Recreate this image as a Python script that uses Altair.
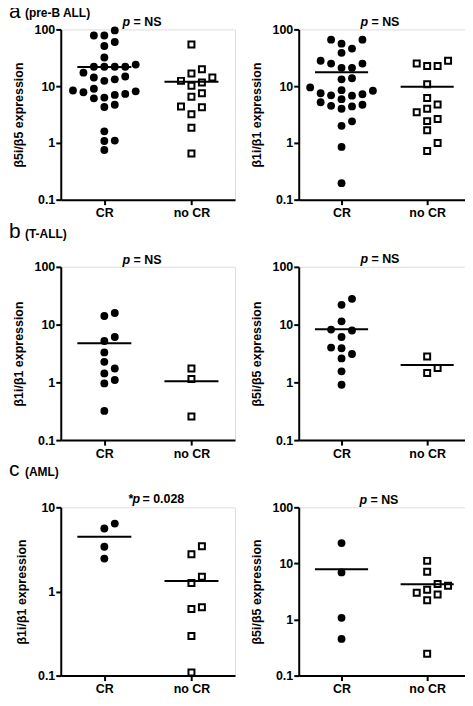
import math
import altair as alt
import pandas as pd

FONT = "Liberation Sans"

# ---------------- data ----------------
# (a) pre-B ALL, left: beta5i/beta5
a1_cr = [96, 78, 78, 60, 51, 32, 24, 22, 22, 22, 22, 17.3, 14.8, 14.2, 13.2, 12.4,
         9.0, 8.4, 8.1, 7.8, 7.3, 7.0, 6.3, 6.1, 4.7, 4.3, 1.6, 1.1, 1.08, 0.75]
a1_nocr = [54, 19.8, 16.7, 14.2, 12.4, 11.6, 10.2, 7.5, 6.5, 4.4, 4.25, 3.2, 1.85, 0.65]
# (a) pre-B ALL, right: beta1i/beta1
a2_cr = [66, 66, 56, 46, 38.7, 28, 25, 25, 21, 21, 13.8, 13.2, 9.5, 8.5, 8.3, 7.5,
         7.2, 6.9, 6.8, 5.9, 5.2, 4.7, 4.5, 4.4, 4.0, 2.4, 2.0, 0.85, 0.195]
a2_nocr = [28, 25, 22.7, 22.7, 10.8, 6.2, 4.75, 4.0, 3.47, 2.65, 2.42, 1.67, 1.0, 0.72]
# (b) T-ALL, left: beta1i/beta1
b1_cr = [15.9, 14.1, 6.1, 5.2, 3.3, 2.27, 1.74, 1.43, 1.1, 0.96, 0.32]
b1_nocr = [1.74, 1.14, 0.256]
# (b) T-ALL, right: beta5i/beta5
b2_cr = [28, 22, 11.4, 8.2, 7.9, 6.1, 4.0, 3.9, 3.1, 2.6, 1.55, 0.91]
b2_nocr = [2.8, 1.77, 1.45]
# (c) AML, left: beta1i/beta1
c1_cr = [6.4, 5.6, 3.4, 2.46]
c1_nocr = [3.45, 2.76, 1.5, 1.26, 0.65, 0.62, 0.295, 0.109]
# (c) AML, right: beta5i/beta5
c2_cr = [23, 6.9, 1.07, 0.45]
c2_nocr = [11.1, 7.1, 4.3, 4.0, 3.4, 3.0, 2.8, 2.2, 0.246]

groups = ["CR", "no CR"]
ticks3 = [0.1, 1, 10, 100]
ticks2 = [0.1, 1, 10]
title_51 = "\u03b25i/\u03b25 expression"
title_11 = "\u03b21i/\u03b21 expression"


def swarm_offsets(values, decade_px, step_px=10.5, diam_px=9.0):
    idx = sorted(range(len(values)), key=lambda i: values[i])
    seq = [0]
    for k in range(1, 8):
        seq += [k, -k]
    placed = []
    offs = [0.0] * len(values)
    for i in idx:
        y = math.log10(values[i]) * decade_px
        chosen = seq[-1] * step_px
        for k in seq:
            x = k * step_px
            if all((x - px) ** 2 + (y - py) ** 2 >= diam_px ** 2 for px, py in placed):
                chosen = x
                break
        placed.append((chosen, y))
        offs[i] = chosen
    return offs


one = pd.DataFrame({"k": [0]})


def label(text, x, y, size=12.5, weight="bold", style="normal"):
    return alt.Chart(one).mark_text(
        text=text, font=FONT, fontSize=size, fontWeight=weight, fontStyle=style,
        align="left", baseline="alphabetic", color="black"
    ).encode(x=alt.value(x), y=alt.value(y))


def panel(cr, nocr, ytitle, ydomain, yticks, width, height, texts):
    decade_px = height / (math.log10(ydomain[1]) - math.log10(ydomain[0]))
    px_per_unit = width / 2.0
    recs = []
    for g, pos, vals in (("CR", 1, cr), ("no CR", 2, nocr)):
        for v, o in zip(vals, swarm_offsets(vals, decade_px)):
            recs.append({"group": g, "pos": pos, "value": v, "xp": pos + o / px_per_unit})
    df = pd.DataFrame(recs)
    xscale = alt.Scale(domain=[0.5, 2.5], nice=False, zero=False)
    yscale = alt.Scale(type="log", domain=ydomain, nice=False)
    xaxis = alt.Axis(values=[1, 2], labelExpr="datum.value == 1 ? 'CR' : 'no CR'",
                     title=None, grid=False, tickSize=5, tickWidth=2, domainWidth=2,
                     labelPadding=2, labelFontSize=12.5, labelFontWeight="bold",
                     labelFont=FONT, domainColor="black", tickColor="black",
                     labelColor="black")
    yaxis = alt.Axis(values=yticks, format="~g", title=ytitle, grid=False, tickSize=5,
                     tickWidth=2, domainWidth=2, labelPadding=1, labelFontSize=12.5,
                     labelFontWeight="bold", labelFont=FONT, titleFont=FONT,
                     titleFontSize=12.5, titleFontWeight="bold", titlePadding=9,
                     domainColor="black", tickColor="black", labelColor="black",
                     titleColor="black")
    X = alt.X("xp:Q", scale=xscale, axis=xaxis)
    Y = alt.Y("value:Q", scale=yscale, axis=yaxis)
    base = alt.Chart(df)
    circ = base.transform_filter("datum.group == 'CR'").mark_circle(
        color="black", size=62, opacity=1).encode(x=X, y=Y)
    sq = base.transform_filter("datum.group == 'no CR'").mark_square(
        fill="white", stroke="black", strokeWidth=2, size=36, opacity=1).encode(x=X, y=Y)
    mean = base.transform_aggregate(m="mean(value)", groupby=["pos"]).transform_calculate(
        x1="datum.pos - 0.31", x2="datum.pos + 0.31").mark_rule(
        color="black", strokeWidth=2).encode(
        x=alt.X("x1:Q", scale=xscale, axis=xaxis), x2="x2:Q",
        y=alt.Y("m:Q", scale=yscale, axis=yaxis))
    layers = [circ, sq, mean] + [label(*t) for t in texts]
    return alt.layer(*layers).properties(width=width, height=height)


def ptext(dx, dy):
    return [("p", dx, dy, 12.5, "bold", "italic"), ("= NS", dx + 11, dy, 12.5, "bold")]


LX = -52   # letter x, relative to the plot's left edge
SX = -36   # subtitle x

pa1 = panel(a1_cr, a1_nocr, title_51, [0.1, 100], ticks3, 175, 171,
            ptext(62, -3) + [("a", LX, -11, 21, "normal"), ("(pre-B ALL)", SX, -12, 12, "bold")])
pa2 = panel(a2_cr, a2_nocr, title_11, [0.1, 100], ticks3, 172, 171, ptext(62, -3))
pb1 = panel(b1_cr, b1_nocr, title_11, [0.1, 100], ticks3, 175, 174,
            ptext(62, -3) + [("b", LX, -29, 21, "normal"), ("(T-ALL)", SX, -29, 12, "bold")])
pb2 = panel(b2_cr, b2_nocr, title_51, [0.1, 100], ticks3, 172, 174, ptext(62, -4))
pc1 = panel(c1_cr, c1_nocr, title_11, [0.1, 10], ticks2, 175, 169,
            [("*", 68, -4, 12.5, "bold"), ("p", 72, -4, 12.5, "bold", "italic"),
             ("= 0.028", 82, -4, 12.5, "bold"),
             ("c", LX, -31, 21, "normal"), ("(AML)", SX, -31, 12, "bold")])
pc2 = panel(c2_cr, c2_nocr, title_51, [0.1, 100], ticks3, 172, 169, ptext(61, -3))

chart = alt.concat(pa1, pa2, pb1, pb2, pc1, pc2, columns=2,
                   spacing={"row": 67.5, "column": 64}, bounds="flush").properties(
    padding={"left": 0, "top": -9, "right": -6, "bottom": -2}
).configure_view(stroke=None).configure(background="white")

chart.save("out.html", embed_options={"renderer": "svg", "actions": False})
